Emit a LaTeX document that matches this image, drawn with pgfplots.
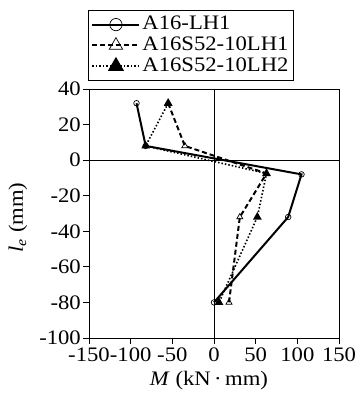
\documentclass[border=0pt]{standalone}
\usepackage{pgfplots}
\pgfplotsset{compat=1.18}
\usepackage{fontspec}
\setmainfont{Liberation Serif}[FakeStretch=1.1]
\begin{document}
\fontsize{20.6}{24}\selectfont
\begin{tikzpicture}
\begin{axis}[
  scale only axis, width=250pt, height=249pt,
  at={(0,0)}, anchor=south west,
  xmin=-150, xmax=150, ymin=-100, ymax=40,
  xtick={-150,-100,...,150}, ytick={-100,-80,...,40},
  tick align=outside, xtick pos=left, ytick pos=left,
  major tick length=6pt,
  /pgf/number format/assume math mode=true,
  tick label style={font=\fontsize{20.6}{24}\selectfont},
  xticklabel style={inner sep=1pt, yshift=-2.5pt},
  yticklabel style={inner sep=1pt, xshift=-1pt},
  extra x ticks={0}, extra x tick labels={},
  extra y ticks={0}, extra y tick labels={},
  extra tick style={grid=major, major grid style={black, line width=0.6pt}},
  axis line style={line width=0.9pt},
  every tick/.style={black, line width=0.9pt},
  xlabel={\textit{M} (kN\,·\,mm)},
  ylabel={\textit{l}\textsubscript{\textit{e}} (mm)},
  label style={font=\fontsize{20.6}{24}\selectfont},
  xlabel style={at={(axis description cs:0.48,-0.169)}, anchor=center},
  ylabel style={at={(axis description cs:-0.284,0.484)}, anchor=center},
  legend style={at={(0,1)}, anchor=south west, xshift=-1pt, yshift=8pt,
    draw=black, line width=0.9pt, inner xsep=3pt, inner ysep=4pt, row sep=0pt,
    font=\fontsize{20.6}{24}\selectfont},
  legend cell align=left,
  legend image code/.code={\draw (0pt,0pt) -- (47pt,0pt); \draw plot[only marks, /tikz/every mark/.append style={scale=2.2}] coordinates {(23.5pt,0pt)};},
]
\addplot[black, line width=2pt, mark=o, mark size=2.8pt, mark options={solid, fill=white, line width=0.7pt}]
  coordinates {(-93,32) (-82,8) (105,-8) (89,-32) (0,-80)};
\addlegendentry{A16-LH1}
\addplot[black, line width=2pt, dash pattern=on 5pt off 3pt, mark=triangle, mark size=3.5pt, mark options={solid, fill=white, line width=0.7pt}]
  coordinates {(-55,32) (-35,8) (63,-7.5) (31,-32) (18,-80)};
\addlegendentry{A16S52-10LH1\hspace{24pt}}
\addplot[black, line width=1.6pt, dash pattern=on 1.5pt off 2pt, mark=triangle*, mark size=3.5pt, mark options={solid, fill=black}]
  coordinates {(-55,32) (-82,8) (63,-7.5) (52,-32) (6,-80)};
\addlegendentry{A16S52-10LH2}
\end{axis}
\path[use as bounding box] (-89pt,-63pt) rectangle (269pt,338pt);
\end{tikzpicture}
\end{document}
